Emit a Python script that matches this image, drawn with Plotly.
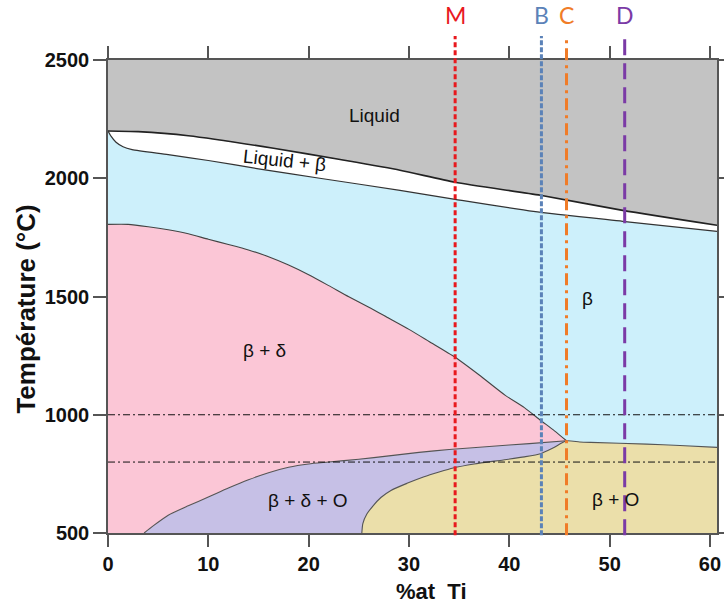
import plotly.graph_objects as go

# ---- data (composition %at Ti, temperature °C) ----
liquidus_x = [0, 3, 8, 16.5, 23, 29.1, 34.6, 43.1, 51.3, 60.7]
liquidus_t = [2200, 2197, 2180, 2127, 2080, 2034, 1983, 1928, 1864, 1801]

solidus_x = [0, 0.3, 0.8, 1.5, 2.4, 6, 10, 15, 21.1, 29.1, 34.6, 42.4, 51.3, 60.7]
solidus_t = [2200, 2178, 2152, 2133, 2121, 2100, 2075, 2040, 2000, 1949, 1911, 1860, 1818, 1775]

beta_delta_x = [0, 2, 4, 6, 8, 10, 12, 14, 16, 18, 20, 22, 24, 26, 28, 30, 32, 34.6,
                37, 39.6, 41.5, 43.1, 44.5, 45.7]
beta_delta_t = [1805, 1805, 1795, 1782, 1765, 1742, 1720, 1697, 1668, 1633, 1592, 1546, 1499,
                1455, 1408, 1361, 1310, 1243, 1168, 1082, 1030, 977, 932, 890]

bdo_x = [3.6, 4.5, 6, 8, 10, 12, 14, 16, 18, 20, 22, 25, 28, 31, 34, 38, 42, 45.7]
bdo_t = [500, 530, 575, 615, 652, 690, 725, 755, 778, 792, 800, 812, 826, 841, 853, 866, 878, 890]

bo_x = [25.3, 25.4, 25.8, 26.4, 27.2, 28.2, 29.8, 31.5, 33, 34.4, 36.5, 39.4, 41.5, 43.1,
        44.3, 45.7, 47, 48.1, 53.7, 57, 60.7]
bo_t = [500, 540, 580, 614, 650, 680, 710, 738, 758, 775, 792, 809, 822, 835,
        858, 890, 885, 883, 876, 870, 862]

iso_t = [1000, 800]

comp_x = [34.6, 43.2, 45.7, 51.5]
comp_labels = ["M", "B", "C", "D"]
comp_colors = ["#e8191e", "#5b82b8", "#f07c28", "#7b3aa6"]
comp_dash = ["5px,3px", "5px,2px", "12px,5px,3px,5px", "16px,8px"]

region_labels = ["Liquid", "Liquid + β", "β", "β + δ", "β + δ + O", "β + O"]
region_x = [26.6, 17.6, 47.8, 15.6, 19.9, 50.6]
region_t = [2267, 2075, 1491, 1271, 636, 640]
region_angle = [0, 6, 0, 0, 0, 0]

x_ticks = [0, 10, 20, 30, 40, 50, 60]
t_ticks = [500, 1000, 1500, 2000, 2500]

XMAX = 60.7
TMIN, TMAX = 500, 2500
FONT = "Liberation Sans, Arial"

fig = go.Figure()

def poly(xs, ys, color):
    fig.add_trace(go.Scatter(x=xs, y=ys, mode="lines", fill="toself",
                             fillcolor=color, line=dict(width=0),
                             hoverinfo="skip", showlegend=False))

# gray (liquid) full area
poly([0, XMAX, XMAX, 0], [TMIN, TMIN, TMAX, TMAX], "#c3c3c3")
# white below liquidus
poly([0] + liquidus_x + [XMAX, XMAX, 0],
     [TMIN] + liquidus_t + [liquidus_t[-1], TMIN, TMIN], "#ffffff")
# blue below solidus
poly([0] + solidus_x + [XMAX, XMAX, 0],
     [TMIN] + solidus_t + [solidus_t[-1], TMIN, TMIN], "#cdf0fb")
# pink below beta/delta boundary
poly([0] + beta_delta_x + [beta_delta_x[-1], 0],
     [TMIN] + beta_delta_t + [TMIN, TMIN], "#fbc6d6")
# purple
poly(bdo_x + [bdo_x[-1]], bdo_t + [TMIN], "#c6c0e6")
# yellow
poly(bo_x + [XMAX, XMAX], bo_t + [bo_t[-1], TMIN], "#ebdfaa")

# boundary lines
for xs, ys, w, c in [(liquidus_x, liquidus_t, 1.6, "#222222"),
                     (solidus_x, solidus_t, 1.2, "#333333"),
                     (beta_delta_x, beta_delta_t, 1.1, "#444444"),
                     (bdo_x, bdo_t, 1.1, "#555555"),
                     (bo_x, bo_t, 1.1, "#555555")]:
    fig.add_trace(go.Scatter(x=xs, y=ys, mode="lines",
                             line=dict(color=c, width=w, shape="spline", smoothing=0.6),
                             hoverinfo="skip", showlegend=False))

# isotherms
for t in iso_t:
    fig.add_trace(go.Scatter(x=[0, XMAX], y=[t, t], mode="lines",
                             line=dict(color="#111111", width=1, dash="7px,3px,2px,3px"),
                             hoverinfo="skip", showlegend=False))

shapes = []
annotations = []
for x, lab, col, dsh in zip(comp_x, comp_labels, comp_colors, comp_dash):
    shapes.append(dict(type="line", xref="x", yref="paper", x0=x, x1=x,
                       y0=-0.005, y1=1.051, line=dict(color=col, width=3, dash=dsh)))
    annotations.append(dict(x=x, y=1.095, xref="x", yref="paper", text=lab, yanchor="middle",
                            showarrow=False, font=dict(family="Lato, Open Sans", size=23, color=col)))

for lab, x, t, a in zip(region_labels, region_x, region_t, region_angle):
    annotations.append(dict(x=x, y=t, xref="x", yref="y", text=lab, showarrow=False,
                            textangle=a,
                            font=dict(family=FONT, size=19, color="#111111")))

# axis titles
annotations.append(dict(x=0.532, y=-0.123, xref="paper", yref="paper", yanchor="middle",
                        text="%at&nbsp;&nbsp;Ti", showarrow=False,
                        font=dict(family=FONT, size=22, color="#111111", weight="bold")))
annotations.append(dict(x=-0.135, y=0.474, xref="paper", yref="paper", xanchor="center",
                        yanchor="middle",
                        text="Température (°C)", showarrow=False, textangle=-90,
                        font=dict(family=FONT, size=26, color="#111111", weight="bold")))

fig.update_layout(
    width=724, height=607,
    margin=dict(l=108, r=7, t=60, b=74),
    paper_bgcolor="white", plot_bgcolor="white",
    showlegend=False,
    shapes=shapes, annotations=annotations,
    font=dict(family=FONT, color="#111111"),
)
fig.update_xaxes(range=[0, XMAX], tickvals=x_ticks, automargin=False,
                 ticks="outside", ticklen=12, tickwidth=1.5, tickcolor="#555555",
                 showline=True, linecolor="#555555", linewidth=1.5, mirror="ticks",
                 showgrid=False, zeroline=False,
                 tickfont=dict(size=20, family=FONT, color="#111111", weight="bold"))
fig.update_yaxes(range=[TMIN, TMAX], tickvals=t_ticks, automargin=False,
                 ticks="outside", ticklen=13, tickwidth=1.5, tickcolor="#555555",
                 showline=True, linecolor="#555555", linewidth=1.5, mirror="ticks",
                 showgrid=False, zeroline=False,
                 tickfont=dict(size=20, family=FONT, color="#111111", weight="bold"))

fig.write_html("out.html", config={"displayModeBar": False},
               post_script="document.body.style.margin='0';document.body.style.overflow='hidden';")
